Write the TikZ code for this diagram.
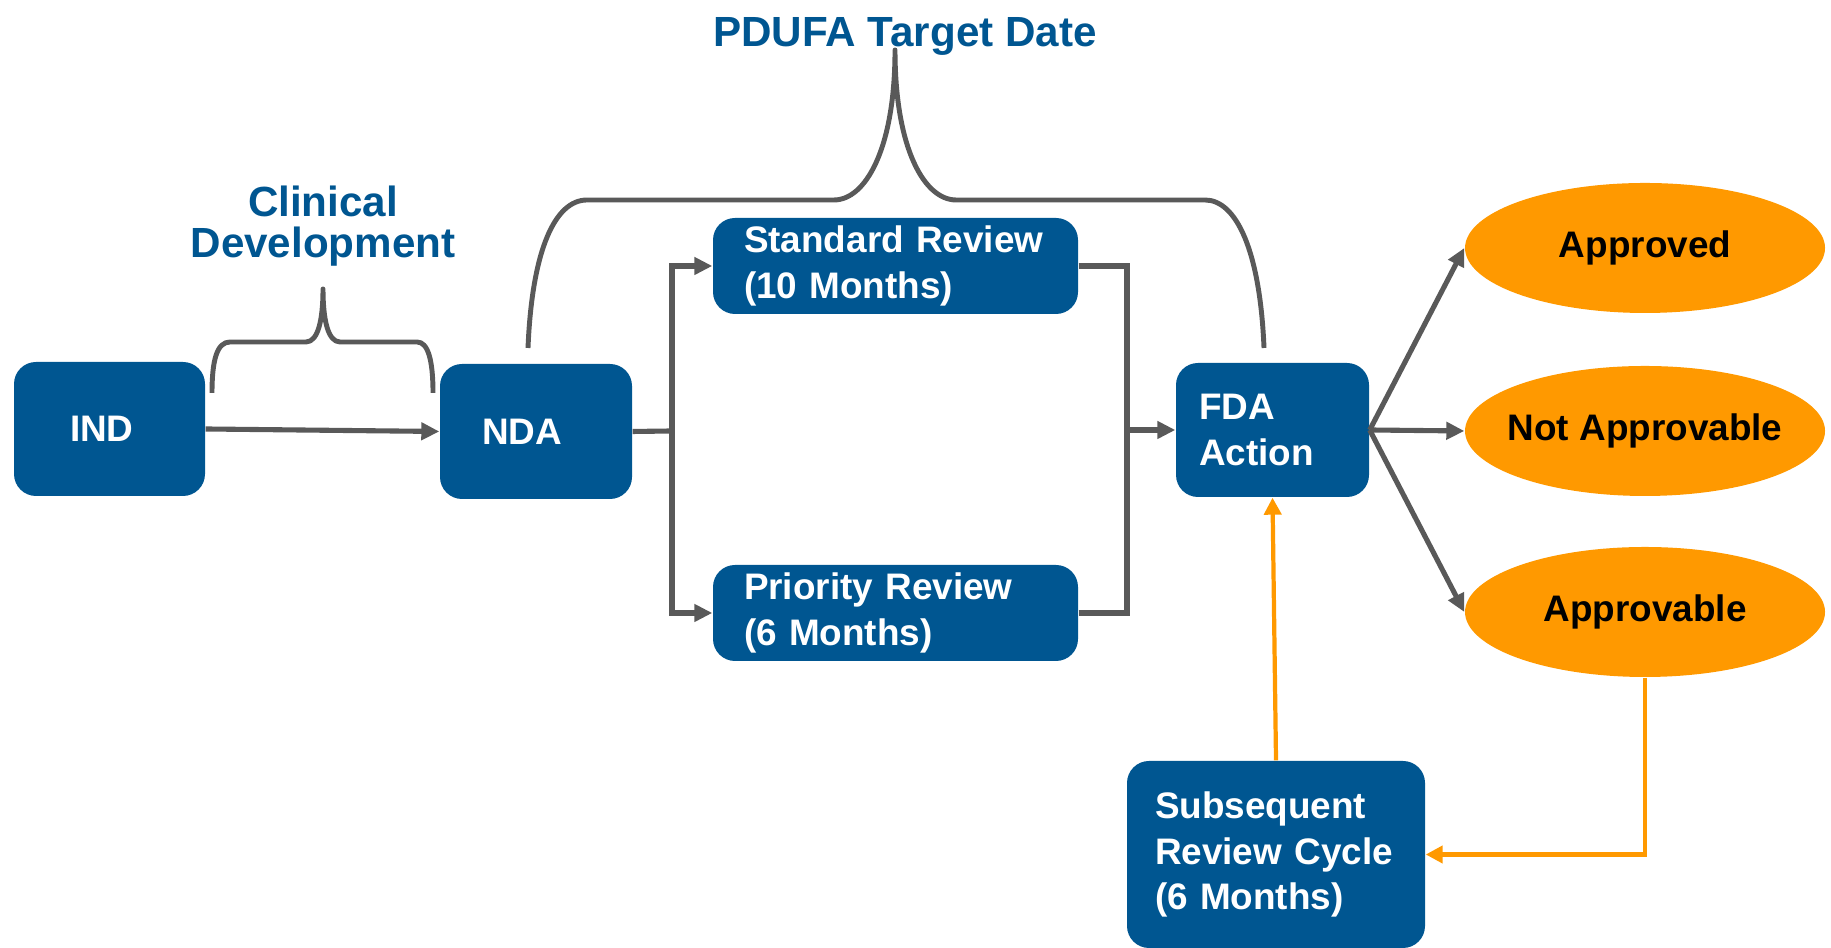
\documentclass[tikz,border=0pt]{standalone}
\usepackage{fontspec}
\setmainfont{Liberation Sans}
\usetikzlibrary{arrows.meta,shapes.geometric}
\definecolor{fdablue}{RGB}{0,86,145}
\definecolor{linegray}{RGB}{89,89,89}
\definecolor{fdaorange}{RGB}{255,153,0}

\tikzset{
    box/.style={fill=fdablue, rounded corners=0.22cm, text=white, align=left,
        inner ysep=0pt, font=\bfseries\fontsize{10.5}{12.9}\selectfont},
    oval/.style={ellipse, fill=fdaorange, minimum width=3.6cm, minimum height=1.3cm,
        inner xsep=-0.2cm, inner ysep=0pt, font=\bfseries\fontsize{10.5}{12.9}\selectfont},
    heading/.style={text=fdablue, align=center, font=\bfseries\fontsize{12}{11.7}\selectfont},
    gline/.style={draw=linegray, line width=1.45pt},
    garrow/.style={gline, -{Triangle[length=0.18cm,width=0.17cm]}},
    oarrow/.style={draw=fdaorange, line width=1.2pt, -{Triangle[length=0.17cm,width=0.17cm]}},
    brace/.style={draw=linegray, line width=1.4pt, line join=round},
}

\begin{document}
\begin{tikzpicture}
        \useasboundingbox (0,0) rectangle (18.31,9.48);
        % blue boxes
        \node[box, text width=0.79cm, inner xsep=0.56cm, minimum height=1.34cm] (ind) at (1.095,5.19) {IND};
        \node[box, text width=1.08cm, inner xsep=0.42cm, minimum height=1.35cm] (nda) at (5.36,5.165) {NDA};
        \node[box, text width=3.03cm, inner xsep=0.31cm, minimum height=0.96cm] (std) at (8.955,6.82) {Standard Review\\(10 Months)};
        \node[box, text width=3.03cm, inner xsep=0.31cm, minimum height=0.96cm] (pri) at (8.955,3.35) {Priority Review\\(6 Months)};
        \node[box, text width=1.47cm, inner xsep=0.23cm, minimum height=1.34cm] (fda) at (12.725,5.18) {FDA\\Action};
        \node[box, text width=2.42cm, inner xsep=0.28cm, minimum height=1.87cm] (sub) at (12.76,0.935) {Subsequent\\Review Cycle\\(6 Months)};
        % outcomes
        \node[oval] (approved)   at (16.45,7.00) {Approved};
        \node[oval] (notapp)     at (16.45,5.17) {Not Approvable};
        \node[oval] (approvable) at (16.45,3.36) {Approvable};
        % headings over the braces
        \node[heading, anchor=base] (pdufa) at (9.05,9.01) {PDUFA Target Date};
        \node[heading] (clinical) at (3.23,7.22) {Clinical\\Development};

        \coordinate (split) at (6.72,5.17);
        \coordinate (join)  at (11.27,5.18);

        \draw[garrow] (ind.east) -- (nda.west);
        \draw[gline]  (nda.east) -- (split);
        \draw[garrow] (split) |- (std.west);
        \draw[garrow] (split) |- (pri.west);
        \draw[gline]  (std.east) -| (join);
        \draw[gline]  (pri.east) -| (join);
        \draw[garrow] (join) -- (fda.west);
        \draw[garrow] (fda.east) -- (approved.west);
        \draw[garrow] (fda.east) -- (notapp.west);
        \draw[garrow] (fda.east) -- (approvable.west);
        \draw[oarrow] (approvable.south) |- (sub.east);
        \draw[oarrow] (sub.north) -- (fda.south);

        % braces
        \draw[brace] (2.12,5.55) .. controls (2.12,5.88) and (2.17,6.06) .. (2.30,6.06) -- (3.06,6.06)
            .. controls (3.18,6.06) and (3.23,6.28) .. (3.23,6.59)
            .. controls (3.23,6.28) and (3.28,6.06) .. (3.40,6.06) -- (4.17,6.06)
            .. controls (4.28,6.06) and (4.33,5.88) .. (4.33,5.55);
        \draw[brace] (5.28,6.00) .. controls (5.32,6.98) and (5.55,7.48) .. (5.87,7.48) -- (8.34,7.48)
            .. controls (8.65,7.48) and (8.95,7.98) .. (8.95,8.98)
            .. controls (8.95,7.98) and (9.25,7.48) .. (9.56,7.48) -- (12.05,7.48)
            .. controls (12.36,7.48) and (12.60,6.98) .. (12.64,6.00);
    \end{tikzpicture}
\end{document}
